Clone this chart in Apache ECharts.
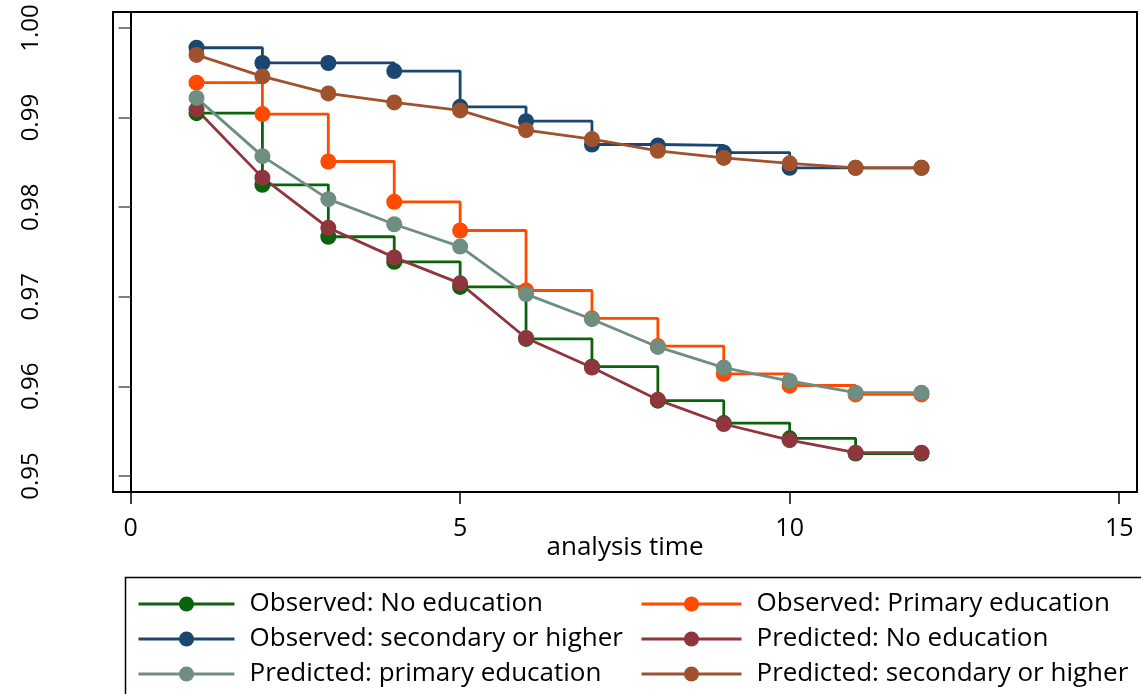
<!DOCTYPE html>
<html>
<head>
<meta charset="utf-8">
<script src="https://cdn.jsdelivr.net/npm/echarts@6/dist/echarts.min.js"></script>
<style>html,body{margin:0;padding:0;background:#fff}#c{width:1141px;height:694px}</style>
</head>
<body>
<div id="c"></div>
<script>
const times = [1, 2, 3, 4, 5, 6, 7, 8, 9, 10, 11, 12];
const obsNoEd = [0.9905, 0.9825, 0.9767, 0.9739, 0.9711, 0.9653, 0.9622, 0.9584, 0.9559, 0.9542, 0.9525, 0.9525];
const obsPrimary = [0.9939, 0.9904, 0.9851, 0.9806, 0.9774, 0.9707, 0.9676, 0.9645, 0.9614, 0.9601, 0.9591, 0.9591];
const obsSecondary = [0.9978, 0.9961, 0.9961, 0.9952, 0.9912, 0.9896, 0.9870, 0.9869, 0.9861, 0.9844, 0.9844, 0.9844];
const predNoEd = [0.9909, 0.9833, 0.9777, 0.9744, 0.9715, 0.9654, 0.9621, 0.9585, 0.9558, 0.9540, 0.9526, 0.9526];
const predPrimary = [0.9922, 0.9857, 0.9809, 0.9781, 0.9756, 0.9703, 0.9675, 0.9644, 0.9621, 0.9606, 0.9593, 0.9593];
const predSecondary = [0.9970, 0.9946, 0.9927, 0.9917, 0.9908, 0.9886, 0.9876, 0.9863, 0.9855, 0.9849, 0.9844, 0.9844];
const xTicks = [0, 5, 10, 15];
const yTicks = [0.95, 0.96, 0.97, 0.98, 0.99, 1.00];

const FONT = 'Open Sans';
function pts(arr) { return times.map((t, i) => [t, arr[i]]); }
function mk(name, arr, color, step) {
  return {
    name: name, type: 'line', data: pts(arr), step: step ? 'end' : false,
    symbol: 'circle', symbolSize: 16, color: color,
    lineStyle: { color: color, width: 2.8 },
    itemStyle: { color: color },
    emphasis: { disabled: true }, animation: false
  };
}
const chart = echarts.init(document.getElementById('c'), null, { renderer: 'canvas' });
const legendText = { fontFamily: FONT, fontSize: 26, color: '#000', lineHeight: 24, padding: [0, 0, 0, 10] };
const legendCommon = { orient: 'vertical', top: 591, padding: 0, itemHeight: 19, itemGap: 9,
  lineStyle: { width: 3 }, textStyle: legendText, selectedMode: false };
chart.setOption({
  backgroundColor: '#fff',
  animation: false,
  grid: { left: 113, top: 12, right: 4, bottom: 202, show: true, borderColor: '#000', borderWidth: 2 },
  xAxis: {
    type: 'value', min: -0.267, max: 15.27,
    name: 'analysis time', nameLocation: 'middle', nameGap: 43, nameMoveOverlap: false,
    nameTextStyle: { fontFamily: FONT, fontSize: 26, color: '#000' },
    splitLine: { show: false },
    axisLine: { show: true, lineStyle: { color: '#000', width: 2 } },
    axisTick: { show: true, customValues: xTicks, length: 12, lineStyle: { color: '#000', width: 1.5 } },
    axisLabel: { customValues: xTicks, fontFamily: FONT, fontSize: 25, color: '#000', margin: 24, formatter: v => String(v) }
  },
  yAxis: {
    type: 'value', min: 0.94821, max: 1.00179,
    splitLine: { show: false },
    axisLine: { show: true, lineStyle: { color: '#000', width: 2 } },
    axisTick: { show: true, customValues: yTicks, length: 12, lineStyle: { color: '#555', width: 1.5 } },
    axisLabel: { customValues: yTicks, rotate: 90, fontFamily: FONT, fontSize: 24, color: '#000', margin: 70, formatter: v => v.toFixed(2) }
  },
  legend: [
    Object.assign({}, legendCommon, { left: 137, itemWidth: 96,
      data: ['Observed: No education', 'Observed: secondary or higher', 'Predicted: primary education'] }),
    Object.assign({}, legendCommon, { left: 640, itemWidth: 100,
      data: ['Observed: Primary education', 'Predicted: No education', 'Predicted: secondary or higher'] })
  ],
  graphic: [
    { type: 'rect', left: 123, top: 575, shape: { width: 1040, height: 140 }, style: { fill: 'none', stroke: '#000', lineWidth: 1.5 }, silent: true }
  ],
  series: [
    mk('Observed: No education', obsNoEd, '#0b640b', true),
    mk('Observed: Primary education', obsPrimary, '#ff4a00', true),
    mk('Observed: secondary or higher', obsSecondary, '#1a476f', true),
    mk('Predicted: No education', predNoEd, '#8e353d', false),
    mk('Predicted: primary education', predPrimary, '#6f8e82', false),
    mk('Predicted: secondary or higher', predSecondary, '#a0522d', false)
  ]
});
</script>
</body>
</html>
